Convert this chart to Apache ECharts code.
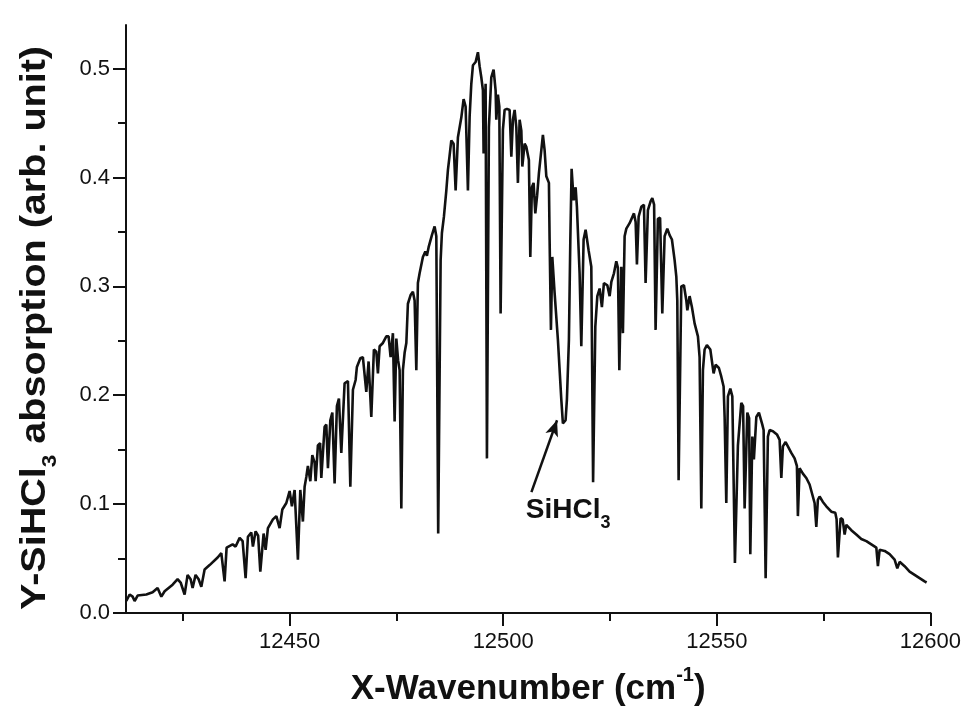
<!DOCTYPE html>
<html>
<head>
<meta charset="utf-8">
<script src="https://cdn.jsdelivr.net/npm/echarts@6/dist/echarts.min.js"></script>
<style>html,body{margin:0;padding:0;background:#fff}#chart{width:964px;height:721px}</style>
</head>
<body>
<div id="chart"></div>
<script>
// spectrum
var wavenumber = [12411.77,12412.55,12413.25,12413.72,12414.42,12416.46,12417.93,12419.10,12419.97,12420.74,12422.61,12423.78,12424.49,12425.42,12426.12,12426.83,12427.29,12427.99,12428.70,12429.33,12430.10,12431.27,12433.15,12434.01,12434.78,12435.25,12436.66,12437.36,12438.30,12439.00,12439.70,12440.24,12441.03,12441.41,12442.04,12442.63,12443.14,12443.91,12444.38,12444.92,12446.09,12446.89,12447.66,12448.29,12449.23,12450.00,12450.54,12451.17,12451.94,12452.50,12453.11,12453.51,12453.91,12454.28,12454.85,12455.31,12455.85,12456.09,12456.62,12457.14,12457.42,12458.19,12458.59,12458.97,12459.53,12460.00,12460.53,12461.07,12461.54,12462.10,12462.87,12463.65,12464.21,12464.82,12465.45,12465.75,12466.55,12467.15,12467.95,12468.49,12469.12,12469.73,12470.29,12470.67,12471.07,12471.84,12472.64,12473.17,12473.64,12474.18,12474.58,12474.98,12475.40,12475.75,12476.15,12476.52,12476.92,12477.32,12477.69,12478.32,12478.86,12479.26,12479.66,12480.03,12480.43,12481.20,12481.77,12482.14,12482.54,12483.31,12483.94,12484.34,12484.78,12485.35,12485.65,12486.12,12486.68,12487.06,12487.45,12487.85,12488.39,12488.86,12489.40,12490.19,12490.73,12491.20,12491.74,12492.14,12492.53,12492.91,12493.54,12494.08,12494.48,12494.87,12495.25,12495.41,12495.88,12496.19,12496.65,12497.21,12497.75,12498.22,12498.38,12498.76,12499.09,12499.39,12499.93,12500.33,12500.87,12501.50,12501.90,12502.27,12502.67,12503.07,12503.44,12503.84,12504.24,12504.47,12505.01,12505.41,12506.01,12506.34,12506.72,12507.11,12507.51,12507.93,12508.36,12508.92,12509.29,12509.69,12510.09,12510.70,12510.86,12511.17,12511.49,12512.03,12512.80,12513.60,12513.97,12514.60,12514.91,12515.38,12515.71,12516.01,12516.48,12516.95,12517.25,12517.88,12518.28,12518.82,12519.29,12519.99,12520.62,12521.04,12521.56,12522.03,12522.57,12523.10,12523.57,12524.37,12524.91,12525.31,12525.92,12526.47,12526.85,12527.18,12527.65,12528.02,12528.42,12528.82,12529.59,12530.60,12531.00,12531.30,12531.70,12532.33,12532.94,12533.33,12533.87,12534.50,12534.90,12535.32,12535.67,12536.21,12536.72,12537.24,12537.78,12538.41,12538.95,12539.49,12540.12,12540.52,12540.75,12541.06,12541.69,12542.30,12542.86,12543.10,12543.63,12544.17,12544.80,12545.58,12545.97,12546.37,12546.75,12547.14,12547.68,12548.48,12549.25,12549.72,12550.49,12551.05,12551.59,12551.83,12552.22,12552.60,12553.16,12553.63,12554.24,12554.94,12555.73,12556.15,12556.51,12557.14,12557.56,12557.84,12558.31,12558.68,12559.25,12559.86,12560.65,12560.96,12561.43,12561.96,12562.36,12563.13,12564.07,12564.70,12565.10,12565.47,12566.10,12566.64,12567.44,12568.21,12568.75,12568.98,12569.38,12570.15,12570.95,12571.72,12572.89,12573.29,12573.66,12574.06,12574.83,12575.63,12576.80,12577.73,12578.04,12578.35,12578.98,12579.45,12579.92,12580.31,12581.48,12582.65,12583.82,12585.00,12586.17,12587.34,12587.71,12588.11,12589.28,12590.45,12591.62,12592.25,12592.79,12593.96,12595.13,12596.30,12597.47,12598.64,12599.11];
var absorbance = [0.011,0.017,0.015,0.011,0.016,0.017,0.019,0.023,0.015,0.020,0.026,0.031,0.028,0.017,0.035,0.031,0.023,0.035,0.031,0.024,0.040,0.044,0.051,0.055,0.029,0.060,0.063,0.061,0.069,0.066,0.032,0.070,0.074,0.061,0.075,0.071,0.038,0.073,0.058,0.078,0.086,0.089,0.078,0.095,0.101,0.112,0.098,0.113,0.049,0.113,0.084,0.116,0.125,0.135,0.121,0.145,0.138,0.121,0.154,0.156,0.124,0.171,0.173,0.133,0.177,0.184,0.119,0.190,0.197,0.147,0.211,0.213,0.116,0.205,0.214,0.226,0.234,0.235,0.203,0.231,0.180,0.242,0.240,0.220,0.245,0.248,0.254,0.254,0.235,0.257,0.176,0.252,0.232,0.223,0.096,0.223,0.239,0.248,0.284,0.292,0.295,0.287,0.223,0.303,0.312,0.327,0.332,0.328,0.336,0.347,0.355,0.346,0.073,0.324,0.349,0.364,0.388,0.407,0.420,0.434,0.431,0.388,0.437,0.455,0.472,0.465,0.388,0.456,0.486,0.503,0.506,0.515,0.502,0.492,0.480,0.422,0.486,0.142,0.446,0.492,0.499,0.480,0.453,0.476,0.465,0.275,0.444,0.462,0.463,0.462,0.419,0.453,0.462,0.446,0.395,0.453,0.443,0.410,0.431,0.428,0.416,0.327,0.391,0.395,0.367,0.383,0.404,0.425,0.439,0.425,0.401,0.395,0.343,0.260,0.327,0.294,0.251,0.196,0.174,0.177,0.196,0.251,0.343,0.408,0.379,0.391,0.373,0.312,0.245,0.343,0.352,0.333,0.318,0.120,0.263,0.291,0.298,0.281,0.303,0.301,0.291,0.304,0.312,0.323,0.317,0.223,0.318,0.257,0.346,0.353,0.358,0.367,0.359,0.320,0.364,0.373,0.375,0.303,0.370,0.378,0.381,0.375,0.260,0.362,0.363,0.275,0.346,0.353,0.347,0.343,0.324,0.309,0.287,0.122,0.300,0.301,0.287,0.278,0.291,0.281,0.266,0.254,0.235,0.096,0.223,0.242,0.246,0.242,0.220,0.228,0.225,0.217,0.208,0.180,0.101,0.199,0.206,0.199,0.046,0.154,0.193,0.190,0.096,0.184,0.179,0.054,0.162,0.141,0.180,0.184,0.173,0.168,0.032,0.162,0.168,0.167,0.164,0.159,0.124,0.153,0.157,0.153,0.147,0.142,0.135,0.089,0.133,0.128,0.124,0.118,0.101,0.079,0.104,0.107,0.102,0.098,0.093,0.092,0.086,0.051,0.087,0.086,0.072,0.081,0.076,0.072,0.068,0.066,0.063,0.060,0.043,0.058,0.057,0.054,0.049,0.041,0.047,0.043,0.038,0.035,0.032,0.029,0.028];

var xLabelTicks = [12450, 12500, 12550, 12600];
var xMinorTicks = [12425, 12475, 12525, 12575];
var yLabelTicks = [0, 0.1, 0.2, 0.3, 0.4, 0.5];
var yMinorTicks = [0.05, 0.15, 0.25, 0.35, 0.45];
// annotation: arrow to the SiHCl3 band and its label (data units)
var arrowFrom = [12506.6, 0.111];
var arrowTo = [12512.6, 0.177];
var labelAt = [12505.3, 0.091];

var myChart = echarts.init(document.getElementById('chart'));
var font = '"Liberation Sans", Arial, sans-serif';
var ink = '#111';

var points = [];
for (var i = 0; i < wavenumber.length; i++) {
    points.push([wavenumber[i], absorbance[i]]);
}

var option = {
    animation: false,
    backgroundColor: '#fff',
    grid: {left: 126, right: 33, top: 25, bottom: 108},
    // y title drawn by hand so it can be stretched along its length like the scan
    graphic: [{
        type: 'text',
        x: 39,
        y: 328,
        rotation: Math.PI / 2,
        scaleX: 1.13,
        style: {
            text: '{t|Y-SiHCl}{s|3}{t| absorption (arb. unit)}',
            textAlign: 'center',
            textVerticalAlign: 'middle',
            rich: {
                t: {fontSize: 35, fontWeight: 'bold', fontFamily: font, fill: ink, color: ink, lineHeight: 42, verticalAlign: 'top'},
                s: {fontSize: 20, fontWeight: 'bold', fontFamily: font, fill: ink, color: ink, verticalAlign: 'bottom'}
            }
        }
    }],
    xAxis: [{
        type: 'value',
        min: 12411.7,
        max: 12600,
        name: '{t|X-Wavenumber (cm}{s|-1}{t|)}',
        nameLocation: 'middle',
        nameGap: 52,
        nameTextStyle: {
            rich: {
                t: {fontSize: 35, fontWeight: 'bold', fontFamily: font, color: ink, lineHeight: 42, verticalAlign: 'bottom'},
                s: {fontSize: 20, fontWeight: 'bold', fontFamily: font, color: ink, verticalAlign: 'top'}
            }
        },
        axisLine: {lineStyle: {color: ink, width: 2}},
        axisTick: {customValues: xLabelTicks, length: 13, lineStyle: {color: ink, width: 2}},
        axisLabel: {
            customValues: xLabelTicks, fontSize: 22, color: ink, fontFamily: font, margin: 18,
            formatter: function (v) { return String(v); }
        },
        splitLine: {show: false}
    }, {
        type: 'value',
        min: 12411.7,
        max: 12600,
        position: 'bottom',
        axisLine: {show: false},
        axisTick: {customValues: xMinorTicks, length: 8, lineStyle: {color: ink, width: 2}},
        axisLabel: {show: false},
        splitLine: {show: false}
    }],
    yAxis: [{
        type: 'value',
        min: 0,
        max: 0.54,
        axisLine: {lineStyle: {color: ink, width: 2}},
        axisTick: {customValues: yLabelTicks, length: 13, lineStyle: {color: ink, width: 2}},
        axisLabel: {
            customValues: yLabelTicks, fontSize: 22, color: ink, fontFamily: font, margin: 16,
            formatter: function (v) { return v.toFixed(1); }
        },
        splitLine: {show: false}
    }, {
        type: 'value',
        min: 0,
        max: 0.54,
        position: 'left',
        axisLine: {show: false},
        axisTick: {customValues: yMinorTicks, length: 8, lineStyle: {color: ink, width: 2}},
        axisLabel: {show: false},
        splitLine: {show: false}
    }],
    series: [{
        type: 'line',
        data: points,
        symbol: 'none',
        lineStyle: {color: ink, width: 2.6},
        markLine: {
            silent: true,
            symbol: ['none', 'arrow'],
            symbolSize: [10, 16],
            lineStyle: {color: ink, width: 2.5, type: 'solid'},
            label: {show: false},
            data: [[{coord: arrowFrom}, {coord: arrowTo}]]
        },
        markPoint: {
            silent: true,
            symbol: 'circle',
            symbolSize: 0,
            data: [{coord: labelAt}],
            label: {
                show: true,
                position: 'right',
                distance: 0,
                formatter: '{a|SiHCl}{b|3}',
                rich: {
                    a: {fontSize: 28, fontWeight: 'bold', fontFamily: font, color: ink, lineHeight: 36, verticalAlign: 'top'},
                    b: {fontSize: 18, fontWeight: 'bold', fontFamily: font, color: ink, verticalAlign: 'bottom'}
                }
            }
        }
    }]
};
myChart.setOption(option);
</script>
</body>
</html>
